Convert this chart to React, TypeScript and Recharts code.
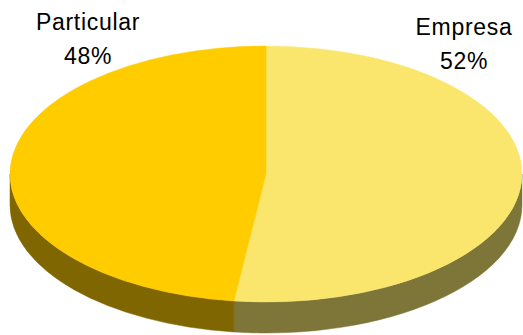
import { Pie, PieChart } from "recharts"

const categories = ["Empresa", "Particular"]
const shares = [52, 48]
const topColors = ["#FBE66D", "#FFCC00"]
const sideColors = ["#7E7538", "#806600"]

const data = categories.map((name, i) => ({ name, value: shares[i] }))

const W = 523
const H = 335
const CX = 266
const CY = 174
const RX = 256
const RY = 128
const DEPTH = 31
const RAD = Math.PI / 180

const px = (cx: number, a: number) => cx + RX * Math.cos(a * RAD)
const py = (cy: number, a: number) => cy - RY * Math.sin(a * RAD)

function TopSlice(props: any) {
  const { cx, cy, startAngle, endAngle, index } = props
  const large = Math.abs(startAngle - endAngle) > 180 ? 1 : 0
  const d = `M${cx},${cy} L${px(cx, startAngle)},${py(cy, startAngle)} A${RX},${RY} 0 ${large} 1 ${px(cx, endAngle)},${py(cy, endAngle)} Z`
  return <path d={d} fill={topColors[index]} stroke={topColors[index]} strokeWidth={0.5} />
}

function SideSlice(props: any) {
  const { cx, cy, startAngle, endAngle, index } = props
  const lo = Math.min(startAngle, endAngle)
  const hi = Math.max(startAngle, endAngle)
  const parts: string[] = []
  for (let k = -2; k <= 1; k++) {
    const a1 = Math.max(lo, 180 + 360 * k)
    const a2 = Math.min(hi, 360 + 360 * k)
    if (a2 <= a1) continue
    parts.push(
      `M${px(cx, a1)},${py(cy, a1)} A${RX},${RY} 0 0 0 ${px(cx, a2)},${py(cy, a2)} ` +
        `L${px(cx, a2)},${py(cy, a2) + DEPTH} A${RX},${RY} 0 0 1 ${px(cx, a1)},${py(cy, a1) + DEPTH} Z`
    )
  }
  return <path d={parts.join(" ")} fill={sideColors[index]} stroke={sideColors[index]} strokeWidth={0.5} />
}

function SliceLabel(props: any) {
  const { cx, cy, midAngle, index, name, percent } = props
  // Excel-style outside labels, pushed up above the top face
  const side = Math.cos(midAngle * RAD) >= 0 ? 1 : -1
  const x = cx + side * (index === 0 ? 198 : 178)
  const y = cy - (index === 0 ? 139 : 144)
  return (
    <text x={x} y={y} textAnchor="middle" fill="#000" fontSize={23} letterSpacing={0.7} fontFamily="'Liberation Sans', Arial, sans-serif">
      <tspan x={x} dy={0}>{name}</tspan>
      <tspan x={x} dy={34}>{`${Math.round(percent * 100)}%`}</tspan>
    </text>
  )
}

export default function App() {
  return (
    <div style={{ position: "absolute", left: 0, top: 0, width: W, height: H, background: "#fff" }}>
      <PieChart width={W} height={H} margin={{ top: 0, right: 0, bottom: 0, left: 0 }}>
        <Pie
          data={data}
          dataKey="value"
          nameKey="name"
          cx={CX}
          cy={CY}
          outerRadius={RX}
          startAngle={90}
          endAngle={-270}
          stroke="none"
          shape={SideSlice}
          isAnimationActive={false}
        />
        <Pie
          data={data}
          dataKey="value"
          nameKey="name"
          cx={CX}
          cy={CY}
          outerRadius={RX}
          startAngle={90}
          endAngle={-270}
          stroke="none"
          shape={TopSlice}
          label={SliceLabel}
          labelLine={false}
          isAnimationActive={false}
        />
      </PieChart>
    </div>
  )
}
